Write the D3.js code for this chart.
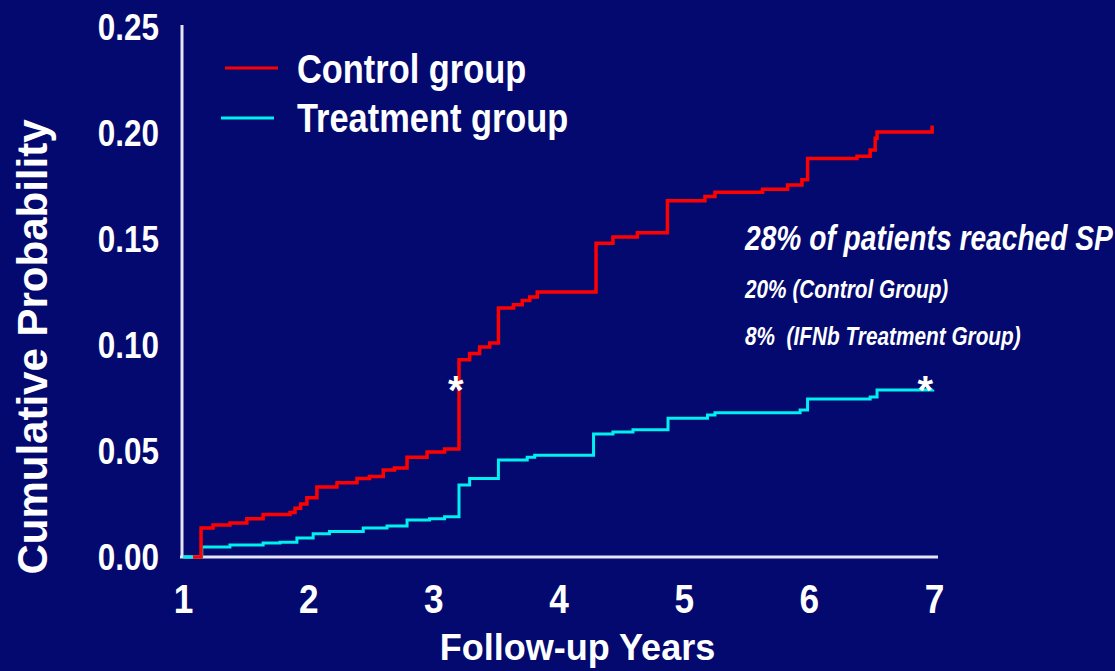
<!DOCTYPE html>
<html>
<head>
<meta charset="utf-8">
<script src="https://cdn.jsdelivr.net/npm/d3@7"></script>
<style>
  html, body { margin: 0; padding: 0; background: #03096e; }
  svg { display: block; }
  text { font-family: "Liberation Sans", Arial, sans-serif; font-weight: bold; fill: #ffffff; white-space: pre; }
</style>
</head>
<body>
<svg id="chart" width="1115" height="671"></svg>
<script>
// ---- data ----
const xTicks = [1, 2, 3, 4, 5, 6, 7];
const xTickLabels = ["1", "2", "3", "4", "5", "6", "7"];
const yTicks = [0, 0.05, 0.10, 0.15, 0.20, 0.25];
const yTickLabels = ["0.00", "0.05", "0.10", "0.15", "0.20", "0.25"];

const seriesNames = ["Control group", "Treatment group"];
const seriesColors = ["#ff0000", "#00f0f0"];

const controlYears = [1.08, 1.144, 1.24, 1.375, 1.51, 1.64, 1.855, 1.895, 1.94, 1.99, 2.07, 2.23, 2.39, 2.49, 2.60, 2.69, 2.79, 2.95, 3.09,
  3.205, 3.29, 3.37, 3.45, 3.52, 3.64, 3.71, 3.77, 3.83, 4.30, 4.435, 4.63, 4.87, 5.17, 5.25, 5.63, 5.83, 5.945, 5.99,
  6.385, 6.49, 6.53, 6.545, 6.98, 6.985];
const controlProb = [0, 0.0137, 0.0151, 0.016, 0.018, 0.020, 0.021, 0.023, 0.025, 0.028, 0.033, 0.035, 0.037, 0.038, 0.041, 0.042, 0.047, 0.0495, 0.051,
  0.093, 0.096, 0.099, 0.101, 0.1175, 0.119, 0.121, 0.1226, 0.125, 0.148, 0.151, 0.153, 0.168, 0.170, 0.172, 0.1735, 0.1755, 0.178, 0.188,
  0.189, 0.192, 0.1975, 0.2005, 0.2005, 0.2035];

const treatmentYears = [1.0, 1.15, 1.375, 1.64, 1.775, 1.91, 2.04, 2.17, 2.44, 2.63, 2.79, 2.97, 3.09, 3.205, 3.29, 3.52, 3.75, 3.81,
  4.28, 4.435, 4.595, 4.875, 5.19, 5.25, 5.93, 5.99, 6.49, 6.545, 6.99];
const treatmentProb = [0, 0.0047, 0.0057, 0.0066, 0.007, 0.009, 0.011, 0.012, 0.0137, 0.0146, 0.0175, 0.018, 0.019, 0.034, 0.037, 0.0457, 0.047, 0.048,
  0.058, 0.059, 0.060, 0.0655, 0.067, 0.068, 0.0693, 0.0745, 0.0755, 0.0788, 0.079];

const markerYears = [3.18, 6.93];
const markerProb = [0.081, 0.081];

const annotationLines = ["28% of patients reached SP", "20% (Control Group)", "8%  (IFNb Treatment Group)"];

// ---- chart ----
const svg = d3.select("#chart");
svg.append("rect").attr("width", 1115).attr("height", 671).attr("fill", "#03096e");

const x = d3.scaleLinear().domain([1, 7]).range([183, 934]);
const y = d3.scaleLinear().domain([0, 0.25]).range([557, 27]);

const axisColor = "#e4e4f2";

// y axis
const yAxis = d3.axisLeft(y).tickValues(yTicks).tickSize(0).tickFormat((d, i) => yTickLabels[i]);
const gy = svg.append("g").attr("transform", `translate(${x(1)},0)`).call(yAxis);
gy.select(".domain").remove();
gy.selectAll("text")
  .attr("x", -24 / 0.85).attr("dy", "0.35em")
  .attr("transform", "scale(0.85,1)")
  .style("font-size", "37px").style("font-family", "'Liberation Sans', Arial, sans-serif")
  .style("font-weight", "bold").attr("fill", "#ffffff");

// x axis
const xAxis = d3.axisBottom(x).tickValues(xTicks).tickSize(0).tickFormat((d, i) => xTickLabels[i]);
const gx = svg.append("g").attr("transform", `translate(0,${y(0)})`).call(xAxis);
gx.select(".domain").remove();
gx.selectAll("text")
  .attr("y", 56).attr("dy", "0")
  .attr("transform", "scale(0.88,1)")
  .style("font-size", "40px").style("font-family", "'Liberation Sans', Arial, sans-serif")
  .style("font-weight", "bold").attr("fill", "#ffffff");

// axis lines
svg.append("line")
  .attr("x1", x(1) - 1).attr("x2", x(1) - 1)
  .attr("y1", y(0.25) - 2).attr("y2", y(0) + 1)
  .attr("stroke", axisColor).attr("stroke-width", 3);
svg.append("line")
  .attr("x1", x(1) - 3).attr("x2", x(7) + 4)
  .attr("y1", y(0)).attr("y2", y(0))
  .attr("stroke", axisColor).attr("stroke-width", 3);

// axis titles
svg.append("text")
  .attr("transform", `translate(47,347) rotate(-90)`)
  .attr("text-anchor", "middle")
  .style("font-size", "42px")
  .text("Cumulative Probability");

svg.append("text")
  .attr("x", (x(4) + 19)).attr("y", 660)
  .attr("text-anchor", "middle")
  .style("font-size", "36px")
  .text("Follow-up Years");

// lines
const line = d3.line().x(d => x(d[0])).y(d => y(d[1])).curve(d3.curveStepAfter);
const controlData = controlYears.map((t, i) => [t, controlProb[i]]);
const treatmentData = treatmentYears.map((t, i) => [t, treatmentProb[i]]);

svg.append("path").datum(treatmentData)
  .attr("d", line).attr("fill", "none")
  .attr("stroke", seriesColors[1]).attr("stroke-width", 3);
svg.append("path").datum(controlData)
  .attr("d", line).attr("fill", "none")
  .attr("stroke", seriesColors[0]).attr("stroke-width", 3.5);

// markers (asterisks)
svg.selectAll("text.mark")
  .data(markerYears.map((t, i) => [t, markerProb[i]]))
  .join("text").attr("class", "mark")
  .attr("x", d => x(d[0])).attr("y", d => y(d[1]) + 19)
  .attr("text-anchor", "middle")
  .style("font-size", "40px")
  .text("*");

// legend
const legend = svg.append("g");
seriesNames.forEach((name, i) => {
  const ly = 68 + i * 50;
  legend.append("line")
    .attr("x1", 225 - i * 4).attr("x2", 278 - i * 4)
    .attr("y1", ly).attr("y2", ly)
    .attr("stroke", seriesColors[i]).attr("stroke-width", 3);
  legend.append("text")
    .attr("transform", `translate(297,${ly + 15 - i * 1}) scale(0.86,1)`)
    .style("font-size", "40px")
    .text(name);
});

// annotation
const ann = svg.append("g");
const annSizes = [35, 26, 26];
const annBaselines = [250, 298, 345];
const annScale = [0.805, 0.8, 0.8];
annotationLines.forEach((s, i) => {
  ann.append("text")
    .attr("transform", `translate(745,${annBaselines[i]}) scale(${annScale[i]},1)`)
    .style("font-size", annSizes[i] + "px")
    .style("font-style", "italic")
    .text(s);
});
</script>
</body>
</html>
